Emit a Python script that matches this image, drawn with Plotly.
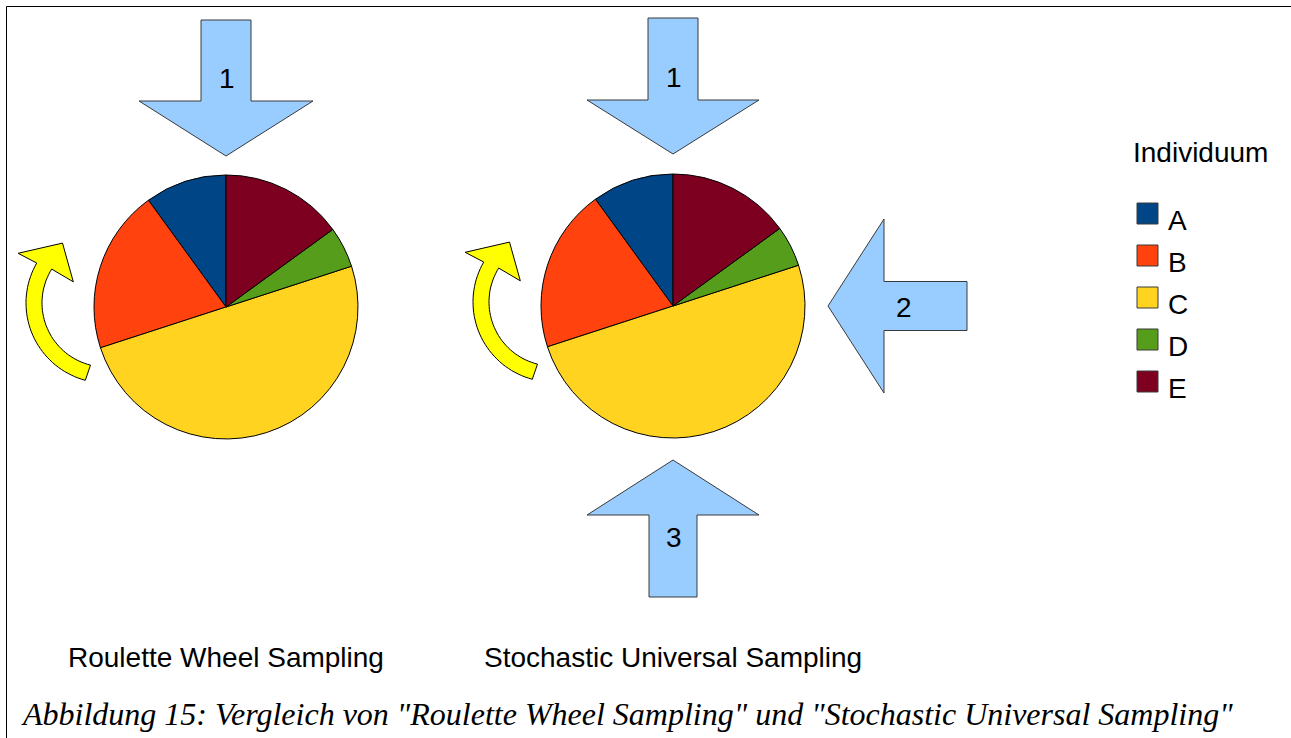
import numpy as np
import plotly.graph_objects as go

W, H = 1291, 738

# Fitness share of each individual
individuals = ["A", "B", "C", "D", "E"]
shares = [10, 20, 50, 5, 15]
colors = ["#004586", "#ff420e", "#ffd320", "#579d1c", "#7e0021"]

method_names = ["Roulette Wheel Sampling", "Stochastic Universal Sampling"]
pointer_labels = [["1"], ["1", "2", "3"]]
legend_title = "Individuum"
caption = 'Abbildung 15: Vergleich von "Roulette Wheel Sampling" und "Stochastic Universal Sampling"'

# layout (pixel space, y grows downward)
centers = [(226, 307), (673, 306)]
R = 132
BLUE = "#99ccff"
FONT = "Liberation Sans, Arial, sans-serif"
FS = 28

# plotly starts a counterclockwise pie with the first slice ending at 12 o'clock;
# rotate so that slice A starts there instead
start_rot = -360.0 * shares[0] / sum(shares)

fig = go.Figure()

for (cx, cy) in centers:
    fig.add_trace(go.Pie(
        labels=individuals, values=shares, sort=False,
        direction="counterclockwise", rotation=start_rot,
        marker=dict(colors=colors, line=dict(color="#000000", width=1)),
        textinfo="none", hoverinfo="label+percent", showlegend=False,
        domain=dict(x=[(cx - R) / W, (cx + R) / W],
                    y=[1 - (cy + R) / H, 1 - (cy - R) / H]),
    ))


def block_arrow(c, u, tip, base, tail, hw, sw):
    """Block arrow lying on direction u from centre c, its tip pointing at c."""
    c = np.asarray(c, float)
    u = np.asarray(u, float)
    v = np.array([-u[1], u[0]])
    t = c + u * tip
    b = c + u * base
    e = c + u * tail
    pts = [t, b + v * hw, b + v * sw, e + v * sw, e - v * sw, b - v * sw, b - v * hw]
    return "M " + " L ".join(f"{p[0]:.1f},{p[1]:.1f}" for p in pts) + " Z"


def curved_arrow(c):
    """Yellow rotation arrow to the left of a pie centred at c."""
    ax, ay = c[0] - 120, c[1] - 4
    r_out, r_in = 80, 64
    a0, a1 = np.radians(105), np.radians(210)
    th = np.linspace(a0, a1, 40)
    outer = [(ax + r_out * np.cos(t), ay + r_out * np.sin(t)) for t in th]
    th_in = np.linspace(np.radians(212), np.radians(104), 40)
    inner = [(ax + r_in * np.cos(t), ay + r_in * np.sin(t)) for t in th_in]

    def pol(r, deg):
        return (ax + r * np.cos(np.radians(deg)), ay + r * np.sin(np.radians(deg)))

    head = [pol(101, 209.5), pol(74, 234), pol(39, 213)]
    pts = outer + head + inner
    return "M " + " L ".join(f"{x:.1f},{y:.1f}" for x, y in pts) + " Z"


shapes = []
annotations = []

# pointer arrows: (pie index, direction, tip, base, tail, head half width, shaft half width)
pointers = [
    (0, (0, -1), 151, 206, 287, 87, 25),
    (1, (0, -1), 152, 206, 288, 86, 25),
    (1, (1, 0), 155, 211, 294, 87, 24.5),
    (1, (0, 1), 154, 209, 291, 86, 24),
]
label_iter = [pointer_labels[0][0], pointer_labels[1][0], pointer_labels[1][1], pointer_labels[1][2]]
for (pi, u, tip, base, tail, hw, sw), lab in zip(pointers, label_iter):
    c = centers[pi]
    shapes.append(dict(type="path", xref="x", yref="y",
                       path=block_arrow(c, u, tip, base, tail, hw, sw),
                       fillcolor=BLUE, line=dict(color="#3a3a3a", width=1)))
    annotations.append(dict(x=c[0] + u[0] * 230 + 1, y=c[1] + u[1] * 230 + 1,
                            xref="x", yref="y", text=lab, showarrow=False,
                            font=dict(family=FONT, size=FS, color="#000000")))

for c in centers:
    shapes.append(dict(type="path", xref="x", yref="y", path=curved_arrow(c),
                       fillcolor="#ffff00", line=dict(color="#000000", width=1)))

# frame lines
shapes.append(dict(type="line", xref="x", yref="y", x0=6.5, y0=6.5, x1=W, y1=6.5,
                   line=dict(color="#000000", width=1)))
shapes.append(dict(type="line", xref="x", yref="y", x0=6.5, y0=6.5, x1=6.5, y1=H,
                   line=dict(color="#000000", width=1)))

# legend
annotations.append(dict(x=1200, y=152, xref="x", yref="y", text=legend_title,
                        showarrow=False, font=dict(family=FONT, size=FS, color="#000000")))
for i, (name, col) in enumerate(zip(individuals, colors)):
    yc = 213.5 + 42 * i
    shapes.append(dict(type="rect", xref="x", yref="y", x0=1137, x1=1158,
                       y0=yc - 10.5, y1=yc + 10.5, fillcolor=col,
                       line=dict(color="#3a3a3a", width=1)))
    annotations.append(dict(x=1166, y=yc + 7, xref="x", yref="y", text=name,
                            xanchor="left", showarrow=False,
                            font=dict(family=FONT, size=FS, color="#000000")))

# method names
for name, xl in zip(method_names, [67, 483]):
    annotations.append(dict(x=xl - 1, y=657, xref="x", yref="y", text=name,
                            xanchor="left", showarrow=False,
                            font=dict(family=FONT, size=FS, color="#000000")))

annotations.append(dict(x=19, y=714, xref="x", yref="y", text=caption,
                        xanchor="left", showarrow=False,
                        font=dict(family="Liberation Serif, Times New Roman, serif",
                                  size=32, style="italic", color="#000000")))

fig.update_layout(
    width=W, height=H, margin=dict(l=0, r=0, t=0, b=0),
    paper_bgcolor="#ffffff", plot_bgcolor="#ffffff",
    xaxis=dict(range=[0, W], visible=False, fixedrange=True),
    yaxis=dict(range=[H, 0], visible=False, fixedrange=True),
    shapes=shapes, annotations=annotations, showlegend=False,
)

fig.write_html("out.html")
